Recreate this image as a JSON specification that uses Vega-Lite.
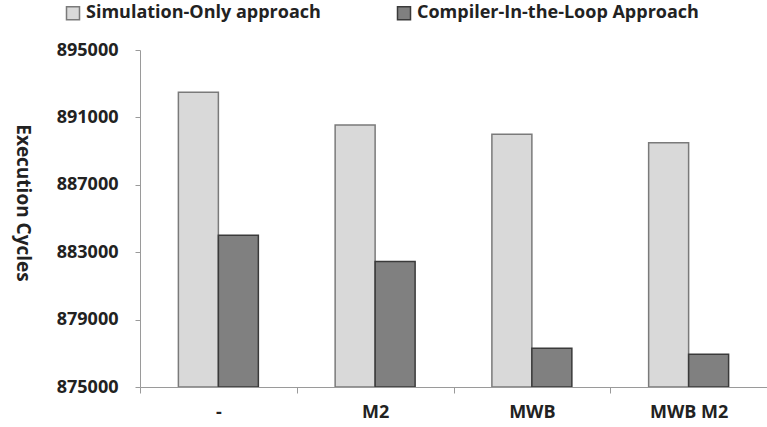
{
  "$schema": "https://vega.github.io/schema/vega-lite/v6.json",
  "autosize": {"type": "none"},
  "padding": {"left": 140, "top": 50, "right": 0, "bottom": 40},
  "width": 627,
  "height": 337,
  "background": "white",
  "data": {
    "values": [
      {"config": "-", "series": "Simulation-Only approach", "cycles": 892500},
      {"config": "-", "series": "Compiler-In-the-Loop Approach", "cycles": 884000},
      {"config": "M2", "series": "Simulation-Only approach", "cycles": 890550},
      {"config": "M2", "series": "Compiler-In-the-Loop Approach", "cycles": 882450},
      {"config": "MWB", "series": "Simulation-Only approach", "cycles": 890000},
      {"config": "MWB", "series": "Compiler-In-the-Loop Approach", "cycles": 877300},
      {"config": "MWB M2", "series": "Simulation-Only approach", "cycles": 889500},
      {"config": "MWB M2", "series": "Compiler-In-the-Loop Approach", "cycles": 876950}
    ]
  },
  "mark": {"type": "bar", "strokeWidth": 1.5, "clip": true},
  "encoding": {
    "x": {
      "field": "config",
      "type": "nominal",
      "sort": null,
      "scale": {"paddingInner": 0, "paddingOuter": 0},
      "axis": {
        "title": null,
        "labelAngle": 0,
        "tickBand": "extent",
        "tickSize": 6,
        "labelPadding": 10,
        "labelFontSize": 18,
        "labelFont": "Open Sans",
        "labelFontWeight": "bold",
        "labelColor": "#222222",
        "domainColor": "#9a9a9a",
        "tickColor": "#9a9a9a",
        "grid": false
      }
    },
    "xOffset": {
      "field": "series",
      "type": "nominal",
      "sort": ["Simulation-Only approach", "Compiler-In-the-Loop Approach"],
      "scale": {"paddingInner": 0, "paddingOuter": 0.96}
    },
    "y": {
      "field": "cycles",
      "type": "quantitative",
      "scale": {"domain": [875000, 895000], "zero": false, "nice": false},
      "axis": {
        "title": "Execution Cycles",
        "values": [875000, 879000, 883000, 887000, 891000, 895000],
        "format": "d",
        "grid": false,
        "tickSize": 5,
        "labelPadding": 17,
        "labelFontSize": 18,
        "labelFont": "Open Sans",
        "labelFontWeight": "bold",
        "labelColor": "#222222",
        "domainColor": "#9a9a9a",
        "tickColor": "#9a9a9a",
        "titleFont": "Open Sans",
        "titleFontSize": 19,
        "titleFontWeight": "bold",
        "titleColor": "#222222",
        "titleAngle": 90,
        "titleX": -118,
        "titleY": 152.5,
        "titleAlign": "center",
        "titleBaseline": "middle"
      }
    },
    "y2": {"datum": 875000},
    "fill": {
      "field": "series",
      "type": "nominal",
      "sort": ["Simulation-Only approach", "Compiler-In-the-Loop Approach"],
      "scale": {"range": ["#d9d9d9", "#808080"]},
      "legend": {
        "title": null,
        "orient": "none",
        "direction": "horizontal",
        "legendX": -76,
        "legendY": -46,
        "symbolType": "square",
        "symbolSize": 169,
        "symbolStrokeWidth": 1.5,
        "labelFont": "Open Sans",
        "labelFontSize": 18,
        "labelFontWeight": "bold",
        "labelColor": "#222222",
        "labelLimit": 0,
        "labelOffset": 4,
        "columnPadding": 73,
        "padding": 0,
        "encode": {
          "symbols": {
            "update": {
              "stroke": {"scale": "stroke", "field": "value"},
              "strokeWidth": {"value": 1.5}
            }
          }
        }
      }
    },
    "stroke": {
      "field": "series",
      "type": "nominal",
      "sort": ["Simulation-Only approach", "Compiler-In-the-Loop Approach"],
      "scale": {"range": ["#7a7a7a", "#3a3a3a"]},
      "legend": null
    }
  },
  "config": {
    "view": {"stroke": null},
    "font": "Open Sans"
  }
}
